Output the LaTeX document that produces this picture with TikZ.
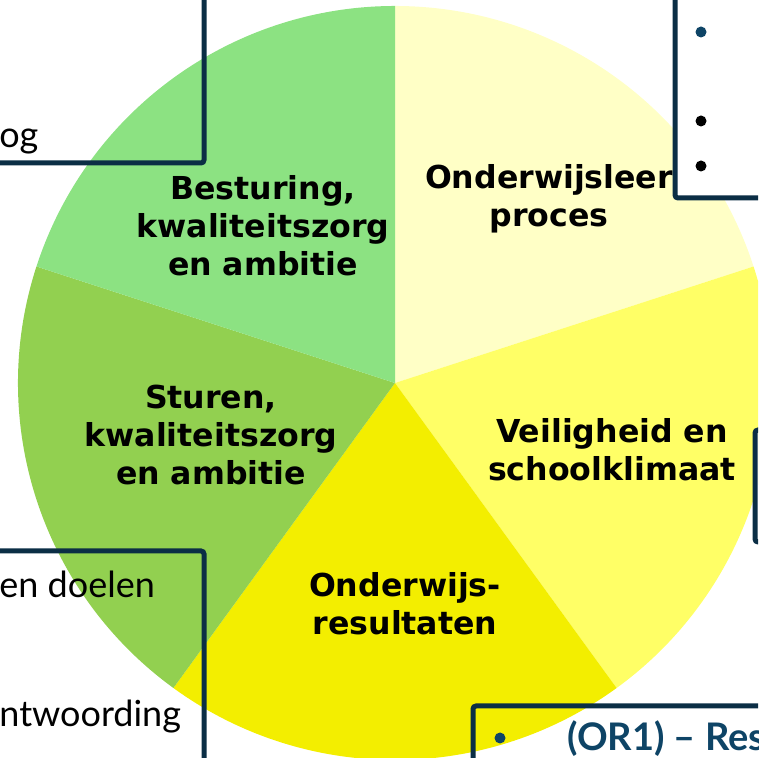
\documentclass[tikz,border=0pt]{standalone}
\usepackage{fontspec}
\usetikzlibrary{positioning}
\newfontfamily\slicefont{DejaVu Sans}
\newfontfamily\boxfont{Lato}
\definecolor{sliceA}{RGB}{255, 255, 198}
\definecolor{sliceB}{RGB}{255, 255, 102}
\definecolor{sliceC}{RGB}{243, 238, 0}
\definecolor{sliceD}{RGB}{146, 208, 80}
\definecolor{sliceE}{RGB}{140, 226, 130}
\definecolor{boxline}{RGB}{11, 46, 69}
\definecolor{navytext}{RGB}{14, 68, 102}

\begin{document}
\begin{tikzpicture}[
    x=0.5pt, y=0.5pt,
    slicelabel/.style={align=center, font=\slicefont\bfseries\fontsize{15.8}{19}\selectfont, inner sep=0pt},
    frame/.style={draw=boxline, line width=2.5pt, rounded corners=1.5pt},
    boxtext/.style={anchor=base west, inner sep=0pt, font=\boxfont\fontsize{18}{22}\selectfont},
    dot/.style={circle, inner sep=0pt, minimum size=5.5pt}
]
\useasboundingbox (0,0) rectangle (758,758);
\clip (0,0) rectangle (758,758);

% Pie
\coordinate (c) at (395,375);
\fill[sliceA] (c) -- ++(90:377) arc (90:18:377) -- cycle;
\fill[sliceB] (c) -- ++(18:377) arc (18:-54:377) -- cycle;
\fill[sliceC] (c) -- ++(-54:377) arc (-54:-126:377) -- cycle;
\fill[sliceD] (c) -- ++(-126:377) arc (-126:-198:377) -- cycle;
\fill[sliceE] (c) -- ++(162:377) arc (162:90:377) -- cycle;

% Slice labels
\node[slicelabel] (besturing) at (263,532) {Besturing,\\kwaliteitszorg\\en ambitie};
\node[slicelabel] (olp) at (549,559) {Onderwijsleer\\proces};
\node[slicelabel] (veiligheid) at (612,308) {Veiligheid en\\schoolklimaat};
\node[slicelabel] (resultaten) at (405,154) {Onderwijs-\\resultaten};
\node[slicelabel] (sturen) at (211,323) {Sturen,\\kwaliteitszorg\\en ambitie};

% Boxes
\draw[frame] (-10,595) rectangle (204,770);
\draw[frame, fill=white] (675,560) rectangle (770,770);
\draw[frame, fill=white] (755,216) rectangle (770,328);
\draw[frame] (-10,-10) rectangle (204,207);
\draw[frame] (473,-10) rectangle (770,52);

% Box texts
\node[boxtext] (tltext) at (-1,610) {og};
\node[boxtext] (bltext1) at (-1,160) {en doelen};
\node[boxtext] (bltext2) at (-1,31) {ntwoording};
\node[boxtext, font=\boxfont\bfseries\fontsize{19}{22}\selectfont, text=navytext] (brtext) at (567,7) {(OR1) – Res};

% Bullets
\node[dot, fill=navytext] (tr1) at (701,726) {};
\node[dot, fill=black] (tr2) at (701,637) {};
\node[dot, fill=black] (tr3) at (701,592) {};
\node[dot, fill=navytext] (br1) at (500,20) {};

\end{tikzpicture}
\end{document}
